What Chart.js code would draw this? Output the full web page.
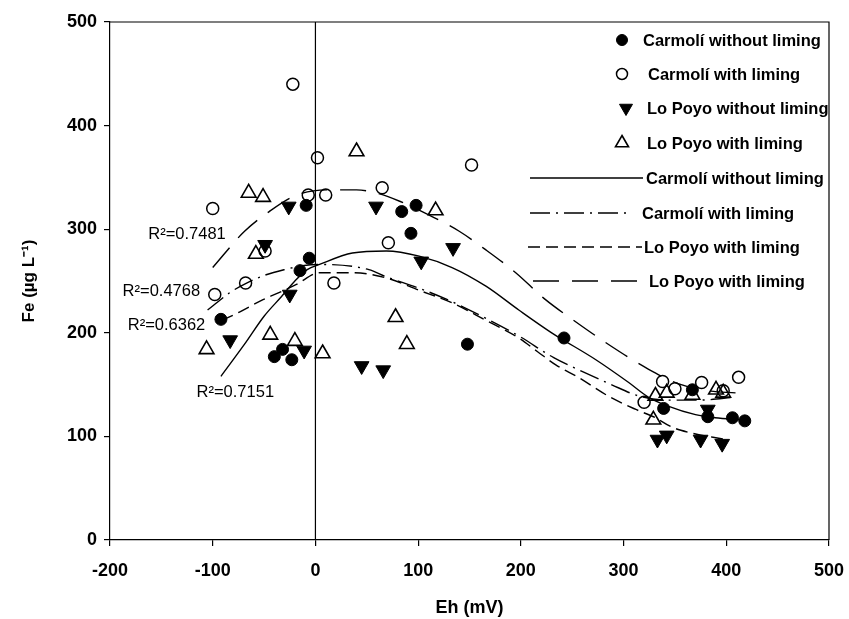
<!DOCTYPE html>
<html>
<head>
<meta charset="utf-8">
<script src="https://cdn.jsdelivr.net/npm/chart.js@4/dist/chart.umd.min.js"></script>
<style>
  html, body { margin: 0; padding: 0; background: #fff; }
  #wrap { width: 849px; height: 619px; }
</style>
</head>
<body>
<div id="wrap"><canvas id="c" width="849" height="619"></canvas></div>
<script>
// Measured Fe concentration (µg L-1) against redox potential Eh (mV)
const carmoliWithoutX = [-92, -40, -32, -23, -15, -6, -9, 84, 98, 93, 148, 242, 339, 367, 382, 406, 418];
const carmoliWithoutY = [213, 177, 184, 174, 260, 272, 323, 317, 323, 296, 189, 195, 127, 145, 119, 118, 115];

const carmoliWithX = [-22, 2, -7, 10, -100, -49, -98, -68, 18, 65, 71, 152, 338, 350, 320, 376, 397, 412];
const carmoliWithY = [440, 369, 333, 333, 320, 279, 237, 248, 248, 340, 287, 362, 153, 146, 133, 152, 144, 157];

const poyoWithoutX = [-26, -49, -25, -83, -11, 59, 103, 134, 45, 66, 333, 342, 375, 396, 382];
const poyoWithoutY = [322, 285, 237, 193, 183, 322, 269, 282, 168, 164, 97, 101, 97, 93, 126];

const poyoWithX = [-65, -51, -58, -106, -44, -20, 7, 40, 117, 78, 89, 331, 342, 367, 390, 397, 329];
const poyoWithY = [335, 331, 276, 184, 198, 192, 180, 375, 318, 215, 189, 139, 142, 140, 145, 142, 116];

// Fitted trend curves
const fitSolidX = [-92, -69, -50, -33, -20, -8, 4, 36, 69, 101, 133, 166, 198, 230, 273, 305, 324, 344, 370, 389, 415];
const fitSolidY = [158, 189, 216, 235, 250, 261, 266, 277, 279, 274, 263, 245, 222, 200, 174, 152, 138, 129, 121, 118, 116];

const fitDashDotX = [-105, -83, -67, -48, -30, -11, 4, 52, 69, 101, 133, 166, 198, 232, 259, 288, 315, 344, 373, 410];
const fitDashDotY = [222, 239, 248, 256, 261, 265, 266, 261, 254, 243, 230, 214, 197, 176, 163, 150, 139, 135, 135, 138];

const fitShortDashX = [-91, -74, -51, -35, -18, 4, 36, 69, 101, 133, 166, 198, 216, 234, 256, 285, 312, 331, 347, 363, 399];
const fitShortDashY = [212, 220, 232, 239, 247, 258, 258, 253, 241, 229, 212, 195, 182, 169, 157, 139, 126, 118, 109, 104, 97];

const fitLongDashX = [-100, -69, -45, -18, 11, 40, 59, 82, 114, 140, 166, 195, 224, 250, 288, 324, 353, 383, 409];
const fitLongDashY = [263, 298, 317, 333, 338, 338, 335, 327, 312, 298, 280, 258, 232, 213, 187, 165, 151, 144, 142];

// Coefficients of determination, placed beside each curve's start (data units)
const r2Texts = ['0.7481', '0.4768', '0.6362', '0.7151'];
const r2X = [-125, -150, -145, -78];
const r2Y = [295, 240, 207, 142];

const xTicks = [-200, -100, 0, 100, 200, 300, 400, 500];
const yTicks = [0, 100, 200, 300, 400, 500];

const legendLabels = [
  'Carmolí without liming', 'Carmolí with liming', 'Lo Poyo without liming', 'Lo Poyo with liming',
  'Carmolí without liming', 'Carmolí with liming', 'Lo Poyo with liming', 'Lo Poyo with liming'
];

const FONT = '"Liberation Sans", Arial, Helvetica, sans-serif';
const pts = (xs, ys) => xs.map((x, i) => ({ x, y: ys[i] }));

const markerSets = [
  { data: pts(carmoliWithoutX, carmoliWithoutY), pointStyle: 'circle', pointRadius: 6, pointRotation: 0,
    backgroundColor: '#000', borderColor: '#000', borderWidth: 1 },
  { data: pts(carmoliWithX, carmoliWithY), pointStyle: 'circle', pointRadius: 6, pointRotation: 0,
    backgroundColor: 'rgba(0,0,0,0)', borderColor: '#000', borderWidth: 1.5 },
  { data: pts(poyoWithoutX, poyoWithoutY), pointStyle: 'triangle', pointRadius: 8.5, pointRotation: 180,
    backgroundColor: '#000', borderColor: '#000', borderWidth: 1 },
  { data: pts(poyoWithX, poyoWithY), pointStyle: 'triangle', pointRadius: 8.5, pointRotation: 0,
    backgroundColor: 'rgba(0,0,0,0)', borderColor: '#000', borderWidth: 1.6 }
].map(d => Object.assign({ type: 'scatter', showLine: false, order: 1 }, d));

const curveSets = [
  { data: pts(fitSolidX, fitSolidY), borderDash: [] },
  { data: pts(fitDashDotX, fitDashDotY), borderDash: [20, 6, 2, 6] },
  { data: pts(fitShortDashX, fitShortDashY), borderDash: [12, 6] },
  { data: pts(fitLongDashX, fitLongDashY), borderDash: [26, 13] }
].map(d => Object.assign({
  type: 'line', showLine: true, pointRadius: 0, borderColor: '#000', borderWidth: 1.4,
  fill: false, cubicInterpolationMode: 'monotone', order: 2
}, d));

// Frame, zero line, R² labels and the legend
const extras = {
  id: 'extras',
  afterDatasetsDraw(chart) {
    const { ctx, chartArea: a, scales } = chart;
    ctx.save();
    ctx.strokeStyle = '#000';
    ctx.lineWidth = 1.2;
    ctx.beginPath();
    ctx.moveTo(a.left, a.top); ctx.lineTo(a.right, a.top); ctx.lineTo(a.right, a.bottom);
    const x0 = scales.x.getPixelForValue(0);
    ctx.moveTo(x0, a.top); ctx.lineTo(x0, a.bottom);
    ctx.stroke();

    ctx.fillStyle = '#000';
    ctx.font = '16.5px ' + FONT;
    ctx.textAlign = 'center';
    ctx.textBaseline = 'middle';
    r2Texts.forEach((t, i) => {
      ctx.fillText('R²=' + t, scales.x.getPixelForValue(r2X[i]), scales.y.getPixelForValue(r2Y[i]));
    });

    // legend
    const rowsY = [40, 74, 108, 143, 178, 213, 247, 281];
    const textX = [643, 648, 647, 647, 646, 642, 644, 649];
    const sample = [[530, 643], [530, 630], [528, 642], [533, 637]];
    ctx.font = 'bold 16.5px ' + FONT;
    ctx.textAlign = 'left';
    legendLabels.forEach((lab, i) => {
      const y = rowsY[i];
      if (i < 4) {
        const ds = markerSets[i];
        const small = ds.pointStyle === 'circle' ? 5.5 : 7.5;
        ctx.save();
        ctx.fillStyle = ds.backgroundColor;
        ctx.strokeStyle = ds.borderColor;
        ctx.lineWidth = ds.borderWidth;
        Chart.helpers.drawPoint(ctx, {
          pointStyle: ds.pointStyle, radius: small, rotation: ds.pointRotation, borderWidth: ds.borderWidth
        }, i === 2 ? 626 : 622, y);
        ctx.restore();
      } else {
        const cs = curveSets[i - 4];
        const [s, e] = sample[i - 4];
        ctx.save();
        ctx.lineWidth = 1.4;
        ctx.setLineDash(cs.borderDash);
        ctx.beginPath(); ctx.moveTo(s, y); ctx.lineTo(e, y); ctx.stroke();
        ctx.restore();
      }
      ctx.fillStyle = '#000';
      ctx.fillText(lab, textX[i], y + 1);
    });
    ctx.restore();
  }
};

const axisCommon = {
  type: 'linear',
  grid: { display: true, drawOnChartArea: false, drawTicks: true, tickLength: 6, color: '#000', lineWidth: 1.2 },
  border: { display: true, color: '#000', width: 1.2 },
};

new Chart(document.getElementById('c'), {
  type: 'scatter',
  data: { datasets: [...markerSets, ...curveSets] },
  options: {
    responsive: false,
    animation: false,
    devicePixelRatio: 1,
    layout: { padding: { top: 22, right: 20, left: 0, bottom: 0 } },
    plugins: { legend: { display: false }, tooltip: { enabled: false } },
    scales: {
      x: Object.assign({}, axisCommon, {
        min: -200, max: 500,
        afterBuildTicks: s => { s.ticks = xTicks.map(v => ({ value: v })); },
        afterFit: s => { s.height = 79; s.paddingLeft = 0; s.paddingRight = 0; },
        ticks: { color: '#000', font: { family: FONT, size: 18, weight: 'bold' }, padding: 14, maxRotation: 0 },
        title: { display: true, text: 'Eh (mV)', color: '#000', font: { family: FONT, size: 18, weight: 'bold' },
                 padding: { top: 0, bottom: 0 } }
      }),
      y: Object.assign({}, axisCommon, {
        min: 0, max: 500,
        afterBuildTicks: s => { s.ticks = yTicks.map(v => ({ value: v })); },
        afterFit: s => { s.width = 110; s.paddingTop = 0; s.paddingBottom = 0; },
        ticks: { color: '#000', font: { family: FONT, size: 18, weight: 'bold' }, padding: 7 },
        title: { display: true, text: 'Fe (µg L⁻¹)', color: '#000', font: { family: FONT, size: 17, weight: 'bold' },
                 padding: { top: 19, bottom: 0 } }
      })
    }
  },
  plugins: [extras]
});
</script>
</body>
</html>
